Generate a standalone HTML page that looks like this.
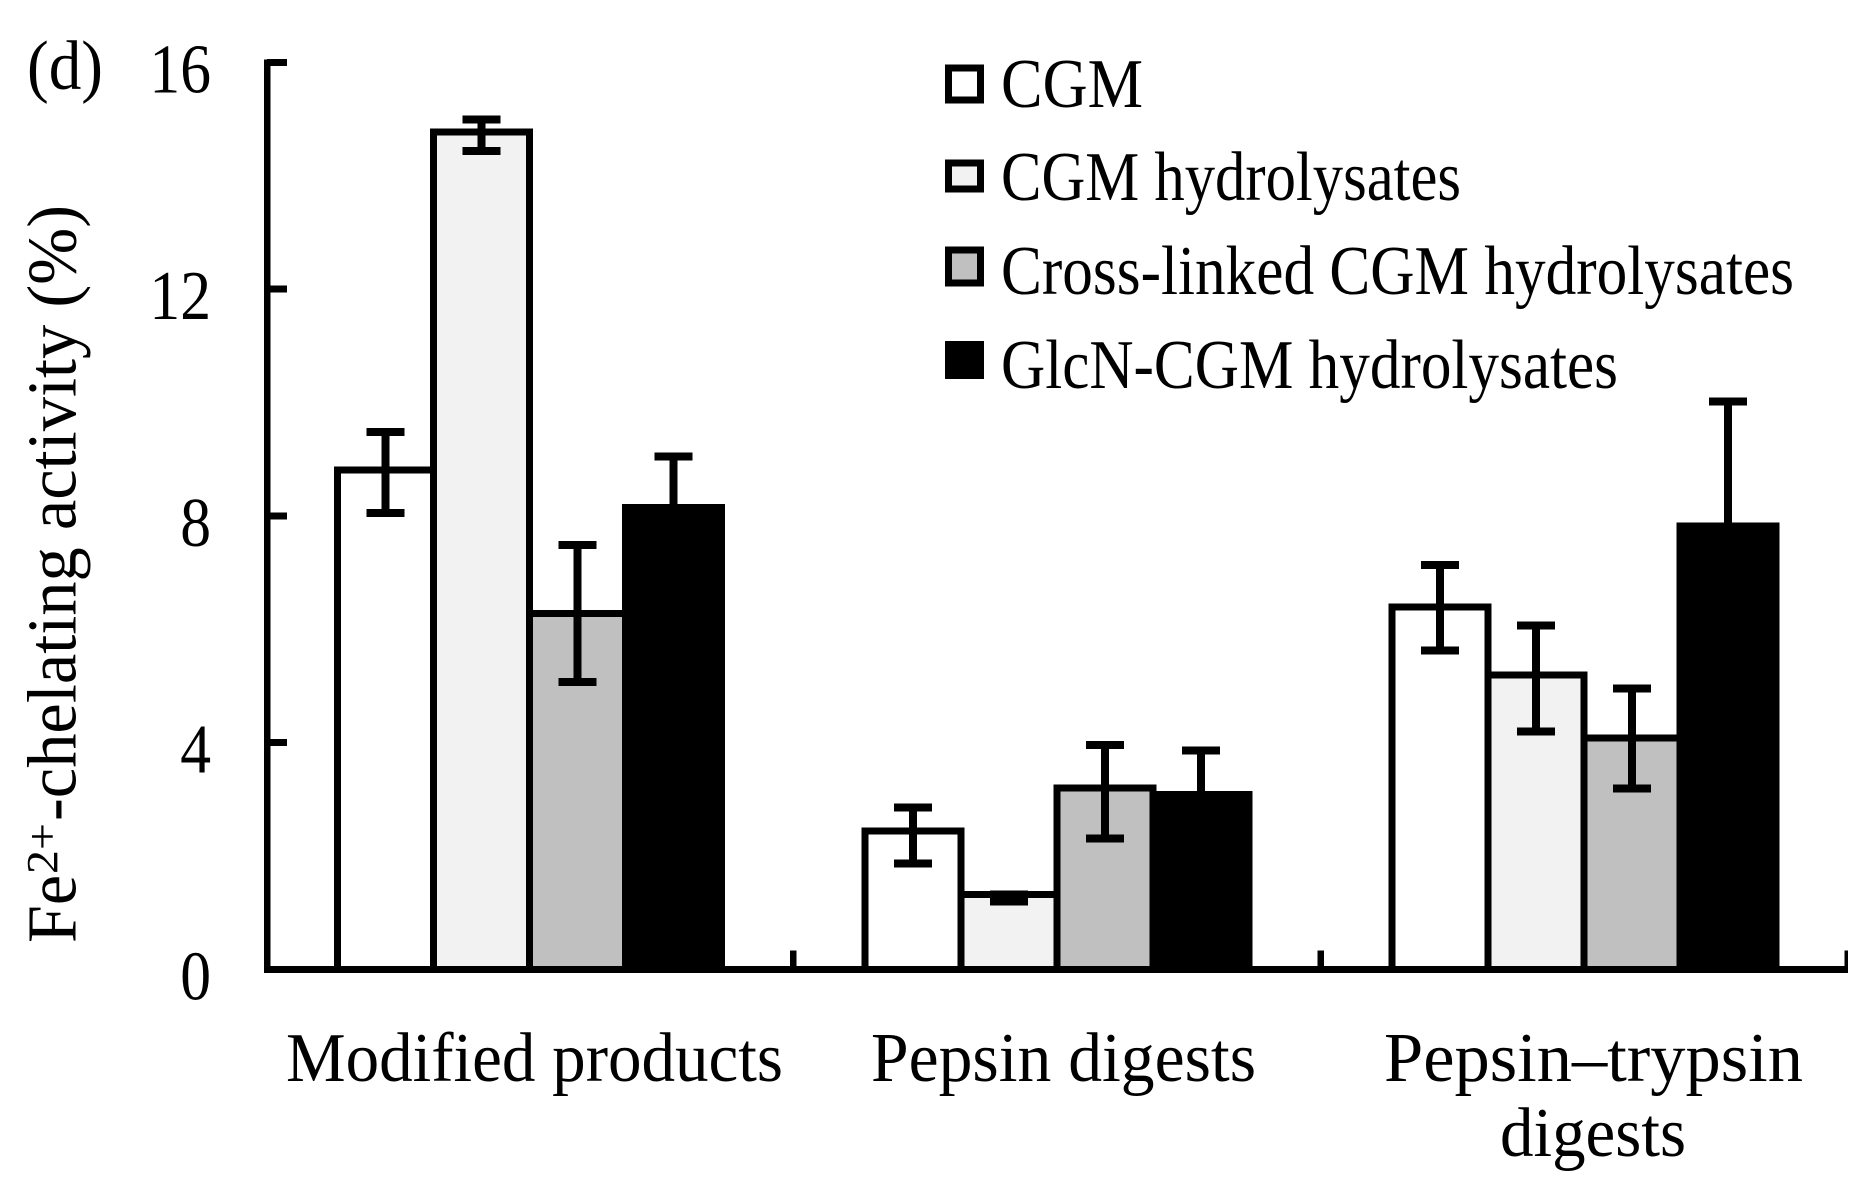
<!DOCTYPE html>
<html lang="en">
<head>
<meta charset="utf-8">
<title>Fe2+-chelating activity chart</title>
<style>
html,body{margin:0;padding:0;background:#fff;width:1863px;height:1189px;overflow:hidden}
svg{display:block}
text{font-family:"Liberation Serif",serif;font-size:70px;fill:#000}
</style>
</head>
<body>
<svg id="chart" width="1863" height="1189" viewBox="0 0 1863 1189" xmlns="http://www.w3.org/2000/svg">
  <defs><clipPath id="axes-clip"><rect x="0" y="0" width="1848" height="1189"/></clipPath></defs>
  <rect width="1863" height="1189" fill="#fff"/>
  <text x="27" y="89" font-size="71" textLength="76" lengthAdjust="spacingAndGlyphs">(d)</text>

  <g>
    <text transform="translate(75.5,943) rotate(-90)" textLength="68" lengthAdjust="spacingAndGlyphs">Fe</text>
    <text transform="translate(57,874) rotate(-90)" style="font-size:44px" textLength="51" lengthAdjust="spacingAndGlyphs">2+</text>
    <text transform="translate(75.5,821) rotate(-90)" textLength="616" lengthAdjust="spacingAndGlyphs">-chelating activity (%)</text>
  </g>

  <g id="bars"></g>
  <g id="errors"></g>
  <g id="axes" clip-path="url(#axes-clip)"></g>

  <g>
    <text x="286" y="1081" textLength="497" lengthAdjust="spacingAndGlyphs">Modified products</text>
    <text x="871" y="1081" textLength="385" lengthAdjust="spacingAndGlyphs">Pepsin digests</text>
    <text x="1384" y="1081" textLength="419" lengthAdjust="spacingAndGlyphs">Pepsin–trypsin</text>
    <text x="1500" y="1156" textLength="186" lengthAdjust="spacingAndGlyphs">digests</text>
  </g>

  <g shape-rendering="crispEdges">
    <g>
      <rect x="948.5" y="68" width="32" height="32" fill="#fff" stroke="#000" stroke-width="7"/>
      <text x="1001" y="107" textLength="142" lengthAdjust="spacingAndGlyphs">CGM</text>
    </g>
    <g>
      <rect x="948.5" y="163" width="32" height="26" fill="#f2f2f2" stroke="#000" stroke-width="7"/>
      <text x="1001" y="200" textLength="460" lengthAdjust="spacingAndGlyphs">CGM hydrolysates</text>
    </g>
    <g>
      <rect x="948.5" y="250" width="32" height="33" fill="#c0c0c0" stroke="#000" stroke-width="7"/>
      <text x="1001" y="294" textLength="793" lengthAdjust="spacingAndGlyphs">Cross-linked CGM hydrolysates</text>
    </g>
    <g>
      <rect x="945" y="341" width="39" height="38" fill="#000"/>
      <text x="1001" y="388" textLength="617" lengthAdjust="spacingAndGlyphs">GlcN-CGM hydrolysates</text>
    </g>
  </g>
</svg>
<script>
const categories = ['modified-products', 'pepsin-digests', 'pepsin-trypsin-digests'];
const yTicks = [0, 4, 8, 12, 16];
const seriesNames = ['cgm', 'cgm-hydrolysates', 'cross-linked', 'glcn-cgm'];
const seriesCgm = [8.81, 2.44, 6.39];
const seriesHydrolysates = [14.77, 1.32, 5.19];
const seriesCrossLinked = [6.28, 3.2, 4.08];
const seriesGlcn = [8.15, 3.09, 7.82];
const errUpCgm = [0.67, 0.42, 0.74];
const errUpHydrolysates = [0.22, 0.0, 0.88];
const errUpCrossLinked = [1.21, 0.76, 0.88];
const errUpGlcn = [0.9, 0.77, 2.2];
const errDownCgm = [0.76, 0.57, 0.76];
const errDownHydrolysates = [0.33, 0.12, 0.99];
const errDownCrossLinked = [1.21, 0.89, 0.89];
const errDownGlcn = [0.9, 0.77, 2.2];

const seriesValues = [seriesCgm, seriesHydrolysates, seriesCrossLinked, seriesGlcn];
const seriesErrUp = [errUpCgm, errUpHydrolysates, errUpCrossLinked, errUpGlcn];
const seriesErrDown = [errDownCgm, errDownHydrolysates, errDownCrossLinked, errDownGlcn];
const seriesFills = ['#ffffff', '#f2f2f2', '#c0c0c0', '#000000'];

const NS = 'http://www.w3.org/2000/svg';
const BASE_Y = 969.5;
const PX_PER_UNIT = 56.7;
const AXIS_X = 267;
const AXIS_END = 1848;
const BAND_START = 266;
const BAND = 527.3;
const GROUP_INSET = 71.5;
const SLOT = 96;

function yScale(v) { return BASE_Y - v * PX_PER_UNIT; }
function bandX(i) { return BAND_START + i * BAND; }
function barX(c, s) { return bandX(c) + GROUP_INSET + s * SLOT; }

function make(parent, tag, attrs) {
  const el = document.createElementNS(NS, tag);
  for (const k in attrs) el.setAttribute(k, attrs[k]);
  parent.appendChild(el);
  return el;
}

const barsG = document.getElementById('bars');
const errG = document.getElementById('errors');
const axesG = document.getElementById('axes');

seriesValues.forEach(function (vals, s) {
  vals.forEach(function (v, c) {
    const top = yScale(v);
    const bar = make(barsG, 'rect', {
      x: barX(c, s), y: top, width: SLOT, height: BASE_Y - top,
      fill: seriesFills[s], stroke: '#000', 'stroke-width': 7, 'shape-rendering': 'crispEdges'
    });
    
    

    const cx = barX(c, s) + SLOT / 2;
    const hi = yScale(v + seriesErrUp[s][c]);
    const lo = yScale(v - seriesErrDown[s][c]);
    const eb = make(errG, 'path', {
      d: 'M' + cx + ' ' + hi + 'V' + lo + 'M' + (cx - 19) + ' ' + hi + 'H' + (cx + 19) + 'M' + (cx - 19) + ' ' + lo + 'H' + (cx + 19),
      fill: 'none', stroke: '#000', 'stroke-width': 8, 'shape-rendering': 'crispEdges'
    });
    
    
  });
});

const yAxis = make(axesG, 'line', {
  x1: AXIS_X, x2: AXIS_X, y1: yScale(yTicks[yTicks.length - 1]) - 3, y2: BASE_Y + 3,
  stroke: '#000', 'stroke-width': 6.5, 'shape-rendering': 'crispEdges'
});



const xAxis = make(axesG, 'line', {
  x1: AXIS_X - 3, x2: AXIS_END, y1: BASE_Y, y2: BASE_Y,
  stroke: '#000', 'stroke-width': 7, 'shape-rendering': 'crispEdges'
});



yTicks.forEach(function (t) {
  const y = yScale(t);
  const mark = make(axesG, 'line', {
    x1: AXIS_X, x2: AXIS_X + 20, y1: y, y2: y,
    stroke: '#000', 'stroke-width': 7, 'shape-rendering': 'crispEdges'
  });
  
  
  const label = make(axesG, 'text', {
    transform: 'translate(211,' + (y + 30) + ') scale(0.88,1)',
    'text-anchor': 'end', 'font-size': 71
  });
  label.textContent = String(t);
  
  
});

categories.forEach(function (name, i) {
  const x = bandX(i + 1);
  const sep = make(axesG, 'line', {
    x1: x, x2: x, y1: BASE_Y - 19, y2: BASE_Y,
    stroke: '#000', 'stroke-width': 6.5, 'shape-rendering': 'crispEdges'
  });
  
  
});
</script>
</body>
</html>
